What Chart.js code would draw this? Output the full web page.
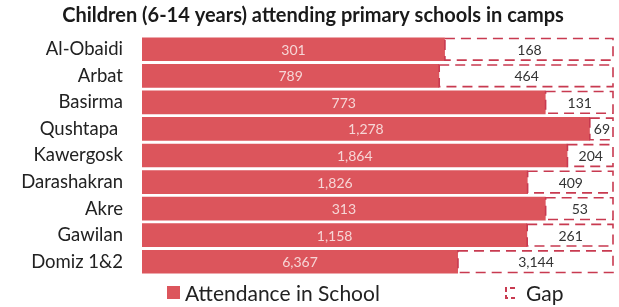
<!DOCTYPE html>
<html>
<head>
<meta charset="utf-8">
<script src="https://cdn.jsdelivr.net/npm/chart.js@4"></script>
<style>
  html, body { margin: 0; padding: 0; background: #fff; }
  #wrap { width: 619px; height: 307px; }
</style>
</head>
<body>
<div id="wrap"><canvas id="chart"></canvas></div>
<script>
// Werte
const camps = ["Al-Obaidi", "Arbat", "Basirma", "Qushtapa ", "Kawergosk", "Darashakran", "Akre", "Gawilan", "Domiz 1&2"];
const attendance = [301, 789, 773, 1278, 1864, 1826, 313, 1158, 6367];
const gap = [168, 464, 131, 69, 204, 409, 53, 261, 3144];
const serienNamen = ["Attendance in School", "Gap"];

const rot = "#dc555c";
const rotRand = "#c83a50";

// 100% gestapelt: Anteile aus den Rohwerten
const anteilAtt = attendance.map((v, i) => v / (v + gap[i]) * 100);
const anteilGap = gap.map((v, i) => v / (attendance[i] + v) * 100);

// gestrichelter Rahmen um die Lücken + Zahlen in den Balken + Legende unten
const balkenPlugin = {
  id: "balken",
  afterDatasetsDraw(chart) {
    const ctx = chart.ctx;
    ctx.save();
    chart.getDatasetMeta(1).data.forEach(bar => {
      const p = bar.getProps(["x", "y", "base", "height"], true);
      ctx.strokeStyle = rotRand;
      ctx.lineWidth = 1.6;
      ctx.setLineDash([10, 6]);
      ctx.strokeRect(p.base, p.y - p.height / 2 + 1, p.x - p.base - 1, p.height - 2);
    });
    ctx.setLineDash([]);
    ctx.font = "14px Lato";
    ctx.textAlign = "center";
    ctx.textBaseline = "middle";
    chart.data.datasets.forEach((ds, di) => {
      const roh = di === 0 ? attendance : gap;
      chart.getDatasetMeta(di).data.forEach((bar, i) => {
        const p = bar.getProps(["x", "y", "base"], true);
        ctx.fillStyle = di === 0 ? "#f6d6d6" : "#333333";
        ctx.fillText(roh[i].toLocaleString("en-US"), (p.x + p.base) / 2, p.y + 1);
      });
    });

    // Legende
    const ly = chart.height - 14;
    ctx.font = "21px Lato";
    ctx.textAlign = "left";
    ctx.fillStyle = rot;
    ctx.fillRect(167, ly - 7, 13, 13);
    ctx.fillStyle = "#222";
    ctx.fillText(serienNamen[0], 185, ly + 1);
    ctx.strokeStyle = rotRand;
    ctx.lineWidth = 2;
    ctx.setLineDash([5, 3]);
    ctx.beginPath();
    ctx.moveTo(515, ly - 5);
    ctx.lineTo(506, ly - 5);
    ctx.lineTo(506, ly + 5);
    ctx.lineTo(515, ly + 5);
    ctx.stroke();
    ctx.setLineDash([]);
    ctx.fillText(serienNamen[1], 526, ly + 1);
    ctx.restore();
  }
};

new Chart(document.getElementById("chart"), {
  type: "bar",
  data: {
    labels: camps,
    datasets: [
      {
        label: serienNamen[0],
        data: anteilAtt,
        backgroundColor: rot,
        borderWidth: 0,
        barPercentage: 0.9,
        categoryPercentage: 0.99
      },
      {
        label: serienNamen[1],
        data: anteilGap,
        backgroundColor: "#ffffff",
        borderWidth: 0,
        barPercentage: 0.9,
        categoryPercentage: 0.99
      }
    ]
  },
  options: {
    indexAxis: "y",
    responsive: true,
    maintainAspectRatio: false,
    animation: false,
    layout: { padding: { left: 12, right: 5, top: 2, bottom: 32 } },
    plugins: {
      title: {
        display: true,
        text: "Children (6-14 years) attending primary schools in camps",
        color: "#1a1a1a",
        font: { family: "Lato", size: 20, weight: "bold" },
        padding: { top: 2, bottom: 8 }
      },
      legend: { display: false },
      tooltip: { enabled: false }
    },
    scales: {
      x: {
        stacked: true,
        min: 0,
        max: 100,
        display: false
      },
      y: {
        stacked: true,
        afterFit(scale) { scale.width = 130; },
        grid: { display: false, drawTicks: false },
        border: { display: false },
        ticks: {
          color: "#222",
          padding: 19,
          autoSkip: false,
          font: { family: "Lato", size: 18.5 }
        }
      }
    }
  },
  plugins: [balkenPlugin]
});
</script>
</body>
</html>
